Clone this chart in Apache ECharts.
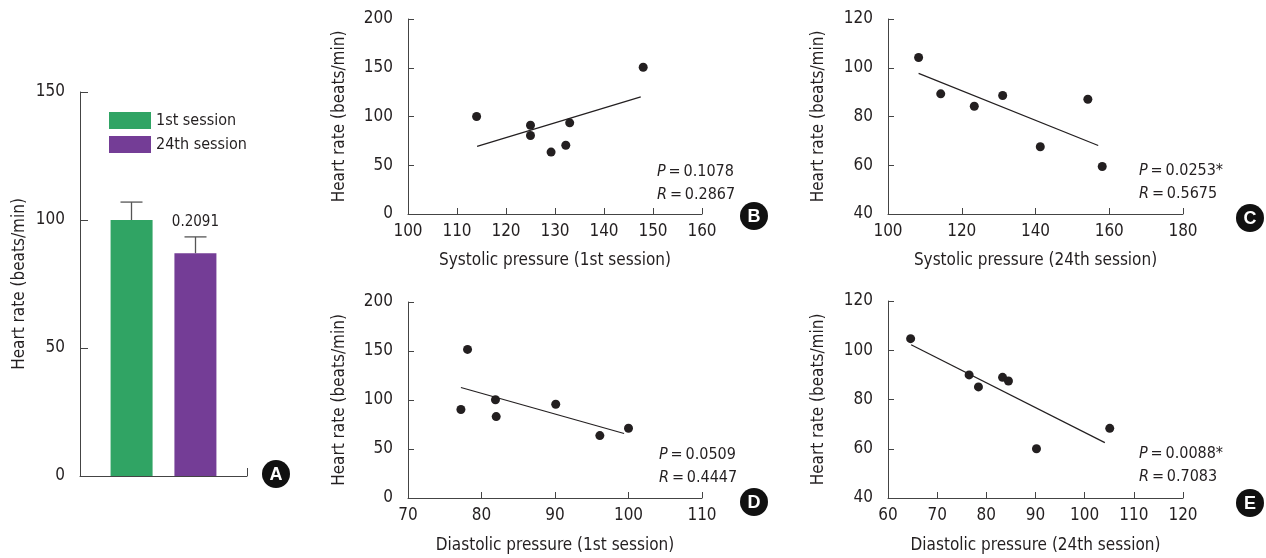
<!DOCTYPE html>
<html>
<head>
<meta charset="utf-8">
<script src="https://cdn.jsdelivr.net/npm/echarts@6/dist/echarts.min.js"></script>
<style>
html, body { margin: 0; background: #fff; }
#main { width: 1266px; height: 558px; }
</style>
</head>
<body>
<div id="main"></div>
<script>
// A: mean heart rate by session
var sessions = ['1st session', '24th session'];
var meanHR = [100, 87];
var errTop = [107, 93.4];
var pA = '0.2091';

// B: systolic pressure, 1st session
var sys1Pts = [[114, 100], [125, 91], [125, 80.5], [129.2, 63.5], [132.2, 70.5], [133, 93.5], [148, 150.5]];
var sys1Fit = [[114.1, 69.3], [147.5, 120.1]];
// C: systolic pressure, 24th session
var sys24Pts = [[108.3, 104.2], [114.3, 89.3], [123.4, 84.2], [131.1, 88.6], [141.3, 67.6], [154.2, 87.1], [158.1, 59.5]];
var sys24Fit = [[108.3, 97.7], [157, 68.1]];
// D: diastolic pressure, 1st session
var dia1Pts = [[77.2, 90.3], [78.1, 151.6], [81.9, 100.2], [82, 83.1], [90.1, 95.7], [96.1, 63.7], [100, 71.2]];
var dia1Fit = [[77.2, 112.8], [99.4, 65.8]];
// E: diastolic pressure, 24th session
var dia24Pts = [[64.6, 104.7], [76.5, 90], [78.4, 85.1], [83.3, 89], [84.5, 87.5], [90.2, 60], [105.1, 68.3]];
var dia24Fit = [[64.7, 102.2], [104.1, 62.5]];

var pValues = ['0.1078', '0.0253*', '0.0509', '0.0088*'];
var rValues = ['0.2867', '0.5675', '0.4447', '0.7083'];
var panelLetters = ['A', 'B', 'C', 'D', 'E'];

var ink = '#231f20';
var axisCol = '#444';
var green = '#30a464';
var purple = '#743d96';
var font = '"DejaVu Sans Condensed", "Liberation Sans", sans-serif';

function valAxis(gi, min, max, step, name, gap) {
  return {
    type: 'value', gridIndex: gi, min: min, max: max, interval: step,
    name: name, nameLocation: 'middle', nameGap: gap,
    nameTextStyle: { fontFamily: font, fontSize: 17, color: ink },
    axisLine: { show: true, lineStyle: { color: axisCol, width: 1 } },
    axisTick: { show: true, inside: true, length: 6, lineStyle: { color: axisCol } },
    axisLabel: { fontFamily: font, fontSize: 17, color: ink, margin: 15 },
    splitLine: { show: false }
  };
}

function scatter(i, pts) {
  return { type: 'scatter', xAxisIndex: i, yAxisIndex: i, data: pts, symbolSize: 9,
    itemStyle: { color: ink, opacity: 1 } };
}
function fitLine(i, pts) {
  return { type: 'line', xAxisIndex: i, yAxisIndex: i, data: pts, showSymbol: false,
    lineStyle: { color: ink, width: 1.2 } };
}

var chart = echarts.init(document.getElementById('main'));

var yName = 'Heart rate (beats/min)';
var xAxes = [
  { type: 'category', gridIndex: 0, data: [''],
    axisLine: { lineStyle: { color: axisCol } },
    axisTick: { show: true, inside: true, length: 8, lineStyle: { color: axisCol } },
    axisLabel: { show: false } },
  valAxis(1, 100, 160, 10, 'Systolic pressure (1st session)', 38),
  valAxis(2, 100, 180, 20, 'Systolic pressure (24th session)', 38),
  valAxis(3, 70, 110, 10, 'Diastolic pressure (1st session)', 39),
  valAxis(4, 60, 120, 10, 'Diastolic pressure (24th session)', 39)
];
xAxes.slice(1).forEach(function (a) { a.axisLabel.margin = 9; });

var yAxes = [
  valAxis(0, 0, 150, 50, yName, 52),
  valAxis(1, 0, 200, 50, yName, 60),
  valAxis(2, 40, 120, 20, yName, 61),
  valAxis(3, 0, 200, 50, yName, 60),
  valAxis(4, 40, 120, 20, yName, 61)
];
yAxes[0].axisTick.length = 8;

var graphics = [];
var statRich = {
  i: { fontFamily: font, fontSize: 16, fontStyle: 'italic', fill: ink },
  n: { fontFamily: font, fontSize: 16, fill: ink }
};
var statPos = [[657, 172], [1139, 171], [659, 455], [1139, 454]];
statPos.forEach(function (p, i) {
  graphics.push({ type: 'text', x: p[0], y: p[1], style: {
    text: '{i|P}{n|\u2009=\u2009' + pValues[i] + '}', align: 'left', verticalAlign: 'middle', rich: statRich } });
  graphics.push({ type: 'text', x: p[0], y: p[1] + 23, style: {
    text: '{i|R}{n|\u2009=\u2009' + rValues[i] + '}', align: 'left', verticalAlign: 'middle', rich: statRich } });
});
var letterPos = [[276, 474], [754, 216], [1250, 218], [754, 502], [1250, 503]];
letterPos.forEach(function (p, i) {
  graphics.push({ type: 'circle', shape: { cx: p[0], cy: p[1], r: 14 }, style: { fill: '#111' } });
  graphics.push({ type: 'text', x: p[0], y: p[1] + 1, style: {
    text: panelLetters[i], align: 'center', verticalAlign: 'middle',
    fontFamily: 'Liberation Sans, Arial, sans-serif', fontWeight: 'bold', fontSize: 18, fill: '#fff' } });
});

var option = {
  animation: false,
  textStyle: { fontFamily: font },
  grid: [
    { left: 80, top: 92, width: 167, height: 384 },
    { left: 408, top: 19, width: 294, height: 195 },
    { left: 888, top: 19, width: 295, height: 195 },
    { left: 408, top: 302, width: 294, height: 196 },
    { left: 888, top: 301, width: 295, height: 197 }
  ],
  legend: {
    data: sessions, orient: 'vertical', left: 104, top: 107, itemGap: 7,
    icon: 'rect', itemWidth: 42, itemHeight: 17,
    textStyle: { fontFamily: font, fontSize: 16, color: ink }
  },
  xAxis: xAxes,
  yAxis: yAxes,
  series: [
    { type: 'bar', name: sessions[0], xAxisIndex: 0, yAxisIndex: 0, data: [meanHR[0]],
      barWidth: 42, barGap: '52%', itemStyle: { color: green }, z: 3 },
    { type: 'bar', name: sessions[1], xAxisIndex: 0, yAxisIndex: 0, data: [meanHR[1]],
      barWidth: 42, barGap: '52%', itemStyle: { color: purple }, z: 3,
      label: { show: true, position: 'top', distance: 24, formatter: pA,
        fontFamily: font, fontSize: 15, color: ink } },
    { type: 'custom', xAxisIndex: 0, yAxisIndex: 0, z: 2,
      data: meanHR.map(function (m, i) { return [0, m, errTop[i], i]; }),
      renderItem: function (params, api) {
        var off = (api.value(3) === 0 ? -1 : 1) * 32;
        var p0 = api.coord([api.value(0), api.value(1)]);
        var p1 = api.coord([api.value(0), api.value(2)]);
        var x = p0[0] + off;
        var st = { stroke: '#555', lineWidth: 1.3 };
        return { type: 'group', children: [
          { type: 'line', shape: { x1: x, y1: p0[1], x2: x, y2: p1[1] }, style: st },
          { type: 'line', shape: { x1: x - 11, y1: p1[1], x2: x + 11, y2: p1[1] }, style: st }
        ] };
      } },
    scatter(1, sys1Pts), fitLine(1, sys1Fit),
    scatter(2, sys24Pts), fitLine(2, sys24Fit),
    scatter(3, dia1Pts), fitLine(3, dia1Fit),
    scatter(4, dia24Pts), fitLine(4, dia24Fit)
  ],
  graphic: graphics
};
chart.setOption(option);
window.addEventListener('resize', function () { chart.resize(); });
</script>
</body>
</html>
